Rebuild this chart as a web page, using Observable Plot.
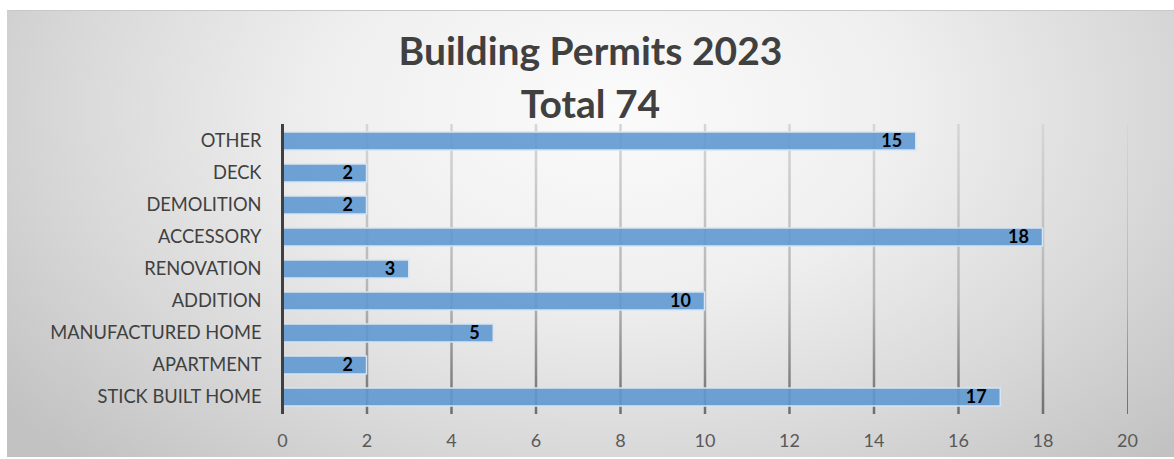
<!DOCTYPE html>
<html><head><meta charset="utf-8">
<script src="https://cdn.jsdelivr.net/npm/d3@7"></script>
<script src="https://cdn.jsdelivr.net/npm/@observablehq/plot@0.6"></script>
<style>
body{margin:0;background:#fff;}
#wrap{position:relative;width:1174px;height:459px;overflow:hidden;font-family:Lato, sans-serif;}
#panel{position:absolute;left:7px;top:10px;width:1167px;height:446px;border-top:1px solid #c8c8c8;
background:radial-gradient(ellipse 66% 110% at 52% 22%, #fbfbfb 0%, #efefef 38%, #d9d9d9 70%, #c2c2c2 100%);}
#title{position:absolute;left:7px;width:1167px;top:24px;text-align:center;color:#404040;font-weight:700;font-size:39px;line-height:53px;}
#chart{position:absolute;left:0;top:120px;}
</style></head>
<body><div id="wrap"><div id="panel"></div><div id="title"><div>Building Permits 2023</div><div>Total 74</div></div><div id="chart"></div></div>
<script>
const categories = ["OTHER","DECK","DEMOLITION","ACCESSORY","RENOVATION","ADDITION","MANUFACTURED HOME","APARTMENT","STICK BUILT HOME"];
const permits = [15,2,2,18,3,10,5,2,17];
const xTicks = [0,2,4,6,8,10,12,14,16,18,20];

const data = categories.map((c,i)=>({category:c, value:permits[i]}));
const H = 339, MT = 4, MB = 45;

const chart = Plot.plot({
  width: 1174, height: H,
  marginLeft: 282, marginRight: 47, marginTop: MT, marginBottom: MB,
  style: {background: "transparent", fontFamily: "Lato, sans-serif"},
  x: {domain: [0,20], axis: null},
  y: {domain: categories, paddingInner: 0.44, paddingOuter: 0.22, axis: null},
  marks: [
    Plot.ruleX(xTicks.filter(d => d > 0 && d < 20), {stroke: "url(#gridGrad)", strokeWidth: 2.5}),
    Plot.ruleX([20], {stroke: "url(#gridGrad)", strokeWidth: 1}),
    Plot.barX(data, {x: "value", y: "category", fill: "#5f99d2", fillOpacity: 0.9, stroke: "#d6e4f3", strokeWidth: 1.5}),
    Plot.ruleX([0], {stroke: "#404040", strokeWidth: 3}),
    Plot.text(data, {x: "value", y: "category", text: d => String(d.value), textAnchor: "end", dx: -14, fontWeight: "bold", fontSize: 18, fill: "#000"}),
    Plot.axisY({tickSize: 0, tickPadding: 21, fontSize: 18.3, fill: "#404040", label: null}),
    Plot.axisX({ticks: xTicks, tickSize: 0, tickPadding: 20, fontSize: 18, fill: "#595959", label: null})
  ]
});
const svg = d3.select(chart);
const defs = svg.insert("defs", ":first-child");
const g = defs.append("linearGradient").attr("id","gridGrad").attr("gradientUnits","userSpaceOnUse")
  .attr("x1",0).attr("x2",0).attr("y1",MT).attr("y2",H-MB);
g.append("stop").attr("offset","0%").attr("stop-color","#d6d6d6");
g.append("stop").attr("offset","60%").attr("stop-color","#b4b4b4");
g.append("stop").attr("offset","100%").attr("stop-color","#6e6e6e");
document.getElementById("chart").appendChild(chart);
</script>
</body></html>
